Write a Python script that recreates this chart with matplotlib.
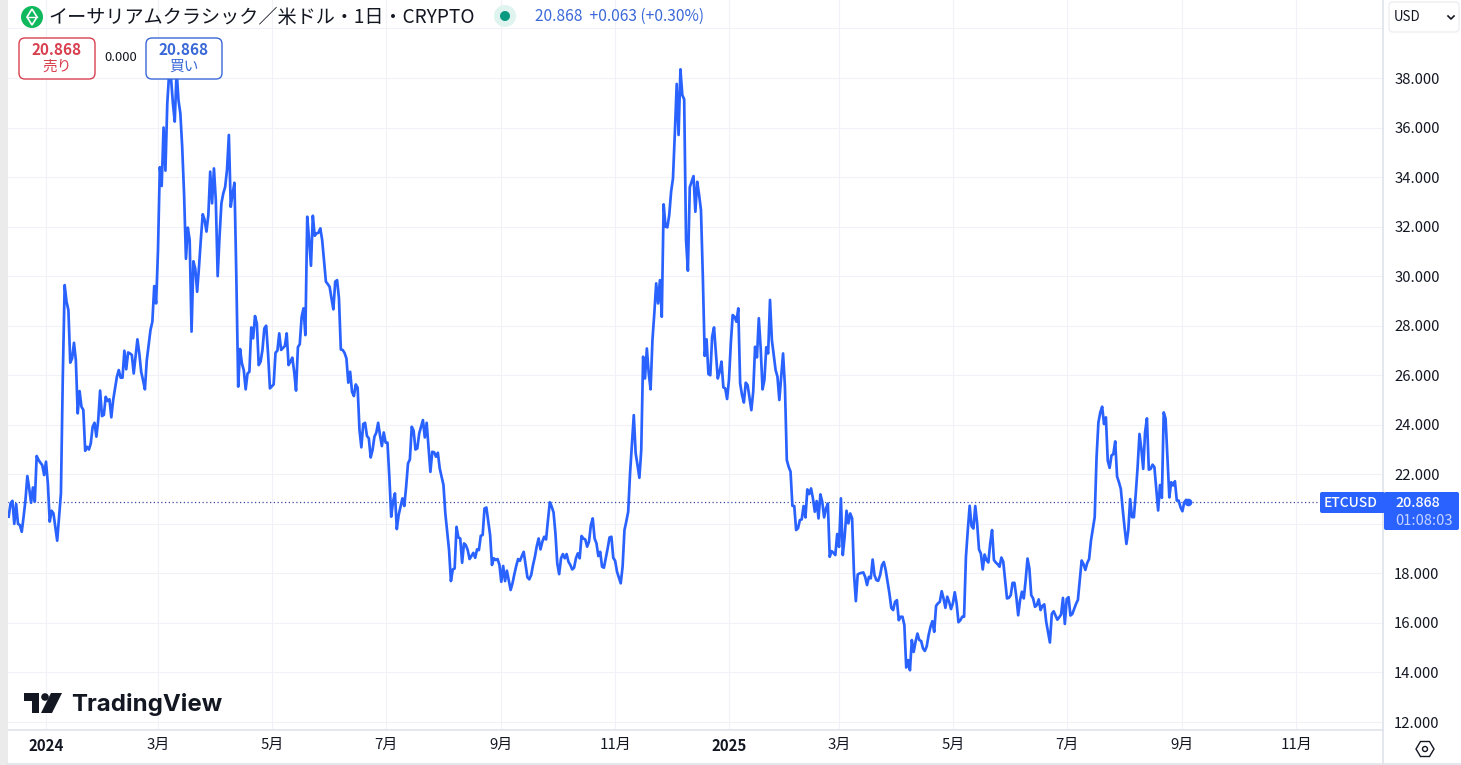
import matplotlib
matplotlib.use("Agg")
import matplotlib.pyplot as plt
from matplotlib.patches import FancyBboxPatch, Rectangle, Circle, Polygon
import pandas as pd

plt.rcParams['font.family'] = ['Noto Sans CJK JP', 'DejaVu Sans']

START_DATE = "2023-12-12"
prices = [
    20.29,20.83,20.93,20.0,20.8,20.0,19.95,19.68,20.29,20.96,
    21.93,21.43,20.85,21.47,20.9,22.74,22.58,22.47,22.37,21.97,
    22.51,21.63,20.09,20.53,20.42,19.88,19.32,20.29,21.23,25.94,
    29.64,28.97,28.63,26.51,26.68,27.31,26.6,24.46,25.36,24.73,
    24.6,22.95,23.11,23.0,23.25,23.92,24.08,23.52,24.2,25.38,
    24.35,24.4,25.13,24.96,25.03,24.3,25.0,25.47,25.94,26.21,
    25.9,25.9,26.99,26.24,26.92,26.88,26.82,26.07,26.75,27.45,
    26.88,26.14,25.8,25.43,26.6,27.2,27.83,28.16,29.6,28.9,
    31.0,34.4,33.64,36.0,34.26,36.98,38.2,38.0,36.98,36.24,
    38.3,37.1,36.57,35.2,33.3,30.7,31.96,31.46,27.76,30.6,
    30.3,29.37,30.38,31.5,32.5,32.27,31.8,32.47,34.22,32.94,
    34.35,33.07,30.0,31.6,32.94,33.34,33.6,34.29,35.7,32.8,
    33.34,33.77,29.98,25.54,27.06,26.48,26.2,25.43,26.07,26.14,
    27.93,27.49,28.39,28.09,26.41,26.55,27.02,27.89,28.0,26.88,
    25.47,25.55,25.63,26.91,26.99,27.69,27.02,27.1,27.18,27.69,
    26.41,26.55,26.71,26.14,25.38,27.13,27.26,28.36,28.7,27.62,
    32.4,31.46,30.42,32.44,31.63,31.73,31.75,31.93,31.46,30.6,
    29.78,29.68,29.57,29.1,28.66,29.78,29.84,29.1,27.04,27.02,
    26.9,26.68,25.7,26.14,25.33,25.16,25.63,25.5,23.79,23.09,
    24.03,24.08,23.55,23.45,22.68,22.98,23.52,23.68,24.08,23.58,
    23.14,23.69,23.28,23.28,21.9,20.29,20.9,21.23,19.79,20.36,
    20.7,21.03,20.72,21.5,22.44,22.6,23.92,23.76,23.0,23.05,
    23.65,23.92,24.19,23.49,24.08,23.11,22.1,22.91,22.89,22.71,
    22.87,22.24,21.9,21.57,20.42,19.68,18.94,17.69,18.16,18.2,
    19.88,19.45,19.41,18.43,19.21,19.14,18.94,18.58,18.7,18.83,
    18.63,18.97,18.94,19.52,19.55,20.62,20.66,20.09,19.55,18.34,
    18.61,18.54,18.58,18.34,17.66,18.3,17.69,18.11,17.73,17.33,
    17.6,17.97,18.3,18.58,18.51,18.7,18.87,18.34,17.84,17.76,
    17.93,18.34,18.67,19.1,19.41,18.97,19.28,19.48,19.37,20.15,
    20.87,20.7,20.46,19.62,18.4,17.97,18.61,18.78,18.61,18.78,
    18.47,18.34,18.16,18.23,18.61,18.81,18.61,19.51,19.41,19.37,
    19.08,19.28,19.95,20.22,19.41,19.21,18.7,18.87,18.27,18.23,
    18.61,19.01,19.45,19.48,18.63,18.51,18.07,17.83,17.6,18.27,
    19.75,20.1,20.49,22.04,23.25,24.39,22.85,22.37,21.86,22.98,
    26.75,25.87,27.08,26.08,25.43,27.42,28.5,29.71,28.9,29.84,
    28.36,32.9,32.0,31.97,32.47,33.41,33.95,35.77,37.76,35.7,
    38.35,37.31,37.14,31.46,30.22,33.59,33.81,34.04,32.6,33.81,
    33.28,32.67,29.98,26.78,27.45,26.05,26.0,27.56,27.93,26.88,
    25.87,26.14,26.55,25.51,25.47,25.04,25.81,27.29,28.43,28.36,
    28.16,28.7,25.67,25.2,24.9,25.7,25.6,25.1,24.59,25.34,
    27.15,26.72,28.3,27.09,25.43,25.81,27.13,26.88,29.04,27.42,
    26.82,26.21,25.94,25.0,25.94,26.88,25.54,22.58,22.3,22.11,
    20.73,20.72,19.75,19.82,20.15,20.18,20.72,20.26,21.39,21.2,
    21.43,21.03,20.49,20.92,20.22,21.19,20.89,20.26,20.62,20.82,
    18.67,18.9,18.83,18.74,19.59,19.07,21.03,18.74,19.48,20.53,
    20.02,20.42,20.22,18.0,16.88,17.96,18.0,18.02,18.04,17.86,
    17.53,17.86,17.8,18.56,17.93,17.73,17.7,17.93,18.33,18.46,
    18.13,17.66,17.19,16.61,16.52,16.85,16.92,16.11,16.25,16.25,
    15.91,14.2,14.5,14.09,15.31,14.83,15.24,15.57,15.31,15.27,
    14.97,14.87,15.06,15.51,15.84,16.07,15.64,16.69,16.79,16.85,
    17.28,16.99,16.61,17.06,16.85,16.56,16.79,17.24,16.79,16.03,
    16.11,16.25,16.25,18.67,19.75,20.73,19.91,19.81,20.72,20.02,
    18.97,18.8,18.16,18.76,18.54,18.44,19.21,19.75,18.54,18.44,
    18.37,18.27,18.64,18.47,17.73,16.99,17.01,17.12,17.62,17.62,
    17.06,16.31,16.92,17.26,16.99,17.73,18.6,18.2,17.12,16.99,
    16.65,16.72,16.95,16.52,16.69,16.75,16.05,15.64,15.21,16.36,
    16.47,16.3,16.13,16.23,16.34,17.01,15.96,16.97,17.04,16.3,
    16.36,16.57,16.77,16.93,17.71,18.52,18.38,18.14,18.42,18.58,
    19.32,19.8,20.27,22.69,24.1,24.5,24.73,24.03,24.3,22.55,
    22.26,22.76,22.82,23.33,21.91,21.68,21.41,20.6,19.86,19.19,
    19.73,21.0,20.27,20.27,21.21,22.29,23.63,23.03,22.22,23.7,
    24.26,22.19,22.22,22.39,22.29,21.41,20.54,21.57,21.05,24.5,
    24.24,22.69,21.07,21.68,21.55,21.72,20.94,20.94,20.67,20.51,
    20.87,20.97,20.868,
]
tick_dates = ["2024-01-01","2024-03-01","2024-05-01","2024-07-01","2024-09-01","2024-11-01",
              "2025-01-01","2025-03-01","2025-05-01","2025-07-01","2025-09-01","2025-11-01"]
tick_labels = ["2024","3月","5月","7月","9月","11月","2025","3月","5月","7月","9月","11月"]
price_ticks = [12,14,16,18,20,22,24,26,28,30,32,34,36,38,40]
hidden_price_labels = [20, 40]
last_price = 20.868
title = "イーサリアムクラシック／米ドル・1日・CRYPTO"
quote = "20.868  +0.063 (+0.30%)"

W, H = 1461, 765
BLUE = "#2962ff"
GRID = "#f0f2f7"
BORDER = "#e0e3eb"
TXT = "#131722"

x_days = list(range(len(prices)))
tick_x = [(pd.Timestamp(d) - pd.Timestamp(START_DATE)).days for d in tick_dates]

fig = plt.figure(figsize=(W/100, H/100), dpi=100, facecolor="white")
ax = fig.add_axes([8/W, 1-730/H, (1383-8)/W, 730/H])
px_per_day = 1.866
px_per_unit = 24.77
ax.set_xlim((8-46)/px_per_day + 20, (1383-46)/px_per_day + 20)
ax.set_ylim(38-(730-78)/px_per_unit, 38+78/px_per_unit)
ax.set_xticks(tick_x)
ax.set_xticklabels(tick_labels, fontsize=10.8, color=TXT)
for lab in ax.get_xticklabels():
    if lab.get_text() in ("2024", "2025"):
        lab.set_fontweight("bold")
ax.yaxis.tick_right()
ax.set_yticks(price_ticks)
ax.set_yticklabels(["" if v in hidden_price_labels else f"{v:.3f}" for v in price_ticks],
                   fontsize=10.7, color=TXT)
ax.tick_params(axis="x", length=0, pad=6)
ax.tick_params(axis="y", length=0, pad=8)
ax.grid(True, color=GRID, lw=0.75)
ax.set_axisbelow(True)
for side in ("top", "left"):
    ax.spines[side].set_visible(False)
for side in ("bottom", "right"):
    ax.spines[side].set_color(BORDER)
    ax.spines[side].set_linewidth(1.2)

ax.plot([x_days[0]-1, (1320-46)/px_per_day + 20], [last_price, last_price], color="#3a4a9f",
        lw=0.9, ls=(0, (1, 2)), zorder=2)
ax.plot(x_days, prices, color=BLUE, lw=1.95, zorder=3, solid_joinstyle="round")
ax.plot(x_days[-1], prices[-1], "o", color=BLUE, ms=5.5, mew=0, zorder=4)

# page chrome, positioned in pixels
ov = fig.add_axes([0, 0, 1, 1], facecolor="none")
ov.set_xlim(0, W); ov.set_ylim(H, 0); ov.axis("off")

ov.add_patch(Rectangle((0, 0), 8, H, color="#ebebeb", lw=0))
ov.plot([1383, 1383], [730, 765], color=BORDER, lw=1.2)
ov.plot([8, W], [764, 764], color=BORDER, lw=1.2)

# symbol logo
ov.add_patch(Circle((32, 17), 11, color="#0fb85c", lw=0))
ov.add_patch(Polygon([(32, 9), (37, 17), (32, 25), (27, 17)], closed=True, fc="none", ec="white", lw=1.2))
ov.plot([27, 37], [17, 17], color="white", lw=1)

ov.text(48, 17, title, fontsize=13.75, color=TXT, va="center", ha="left")
ov.add_patch(Circle((505, 16), 11, color="#dff3ef", lw=0))
ov.add_patch(Circle((505, 16), 5, color="#089981", lw=0))
ov.text(535, 16, quote, fontsize=11.2, color="#3a68d8", va="center", ha="left")

# sell / buy buttons
def button(x0, x1, colour, value, label, y0=38, y1=79):
    ov.add_patch(FancyBboxPatch((x0+5, y0+5), x1-x0-10, y1-y0-10,
                                boxstyle="round,pad=5,rounding_size=6",
                                fc="white", ec=colour, lw=1, zorder=5))
    ov.text((x0+x1)/2, 50, value, fontsize=11, fontweight="bold", color=colour, ha="center", va="center", zorder=6)
    ov.text((x0+x1)/2, 67, label, fontsize=10.6, color=colour, ha="center", va="center", zorder=6)

button(19, 95, "#d8404f", "20.868", "売り")
button(146, 222, "#3a68d8", "20.868", "買い")
ov.text(121, 57, "0.000", fontsize=9.4, color=TXT, ha="center", va="center", zorder=6)

# currency select
ov.add_patch(Rectangle((1384, 0), 77, 38, color="white", lw=0, zorder=5))
ov.add_patch(FancyBboxPatch((1393, 6), 62, 22, boxstyle="round,pad=4,rounding_size=4",
                            fc="white", ec="#eceef2", lw=1, zorder=6))
ov.text(1394, 17, "USD", fontsize=9.6, color=TXT, ha="left", va="center", zorder=7)
ov.plot([1448, 1451, 1454], [16, 19, 16], color=TXT, lw=1.2, zorder=7)

# last price labels
ov.add_patch(FancyBboxPatch((1322, 494), 61, 17, boxstyle="round,pad=2,rounding_size=2",
                            fc=BLUE, ec="none", zorder=5))
ov.text(1351, 503, "ETCUSD", fontsize=10, fontweight="medium", color="white", ha="center", va="center", zorder=6)
ov.add_patch(FancyBboxPatch((1386, 494), 71, 34, boxstyle="round,pad=2,rounding_size=2",
                            fc=BLUE, ec="none", zorder=5))
ov.text(1395, 503, "20.868", fontsize=10.3, color="white", fontweight="medium", ha="left", va="center", zorder=6)
ov.text(1395, 521, "01:08:03", fontsize=10.6, color="#c6d4ff", ha="left", va="center", zorder=6)

# TradingView logo
ov.add_patch(Polygon([(24, 693), (39, 693), (39, 713), (32, 713), (32, 701), (24, 701)], closed=True, fc=TXT, ec="none"))
ov.add_patch(Circle((45, 697), 3.8, color=TXT, lw=0))
ov.add_patch(Polygon([(51, 693), (62, 693), (52, 713), (41, 713)], closed=True, fc=TXT, ec="none"))
ov.text(71, 704, "TradingView", fontsize=17.3, fontweight="bold", family=["Inter", "DejaVu Sans"],
        color=TXT, ha="left", va="center")

# settings icon
ov.add_patch(Polygon([(1416, 749), (1420.5, 741.5), (1429.5, 741.5), (1434, 749), (1429.5, 756.5), (1420.5, 756.5)],
                     closed=True, fc="none", ec=TXT, lw=1))
ov.add_patch(Circle((1425, 749), 2.5, fc="none", ec=TXT, lw=1))

fig.savefig("out.png", dpi=100)
